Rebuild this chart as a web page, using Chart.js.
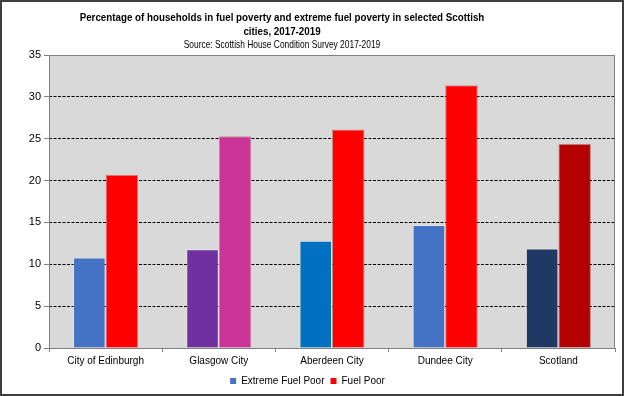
<!DOCTYPE html>
<html>
<head>
<meta charset="utf-8">
<script src="https://cdn.jsdelivr.net/npm/chart.js@4/dist/chart.umd.min.js"></script>
<style>
  html, body { margin: 0; padding: 0; background: #ffffff; }
  #wrap { width: 624px; height: 396px; position: relative; }
</style>
</head>
<body>
<div id="wrap"><canvas id="c" width="624" height="396"></canvas></div>
<script>
const categories = ["City of Edinburgh", "Glasgow City", "Aberdeen City", "Dundee City", "Scotland"];
const seriesNames = ["Extreme Fuel Poor", "Fuel Poor"];
const extremeFuelPoor = [10.8, 11.8, 12.8, 14.7, 11.9];
const fuelPoor = [20.7, 25.3, 26.1, 31.4, 24.4];
const extremeColors = ["#4472C4", "#7030A0", "#0070C0", "#4472C4", "#1F3864"];
const fuelColors = ["#FF0000", "#CC3399", "#FF0000", "#FF0000", "#B40000"];
const legendColors = ["#4472C4", "#FF0000"];
const yTicks = [0, 5, 10, 15, 20, 25, 30, 35];
const titleLines = ["Percentage of households in fuel poverty and extreme fuel poverty in selected Scottish", "cities, 2017-2019"];
const subtitle = "Source: Scottish House Condition Survey 2017-2019";

const FONT = '"Liberation Sans", Arial, sans-serif';

function scaledText(ctx, text, x, y, sx) {
  ctx.save();
  ctx.translate(x, y);
  ctx.scale(sx, 1);
  ctx.fillText(text, 0, 0);
  ctx.restore();
}

const decor = {
  id: 'decor',
  beforeDraw(chart) {
    const { ctx, chartArea: a } = chart;
    ctx.save();
    ctx.fillStyle = '#D9D9D9';
    ctx.fillRect(a.left, a.top, a.right - a.left, a.bottom - a.top);
    ctx.restore();
  },
  afterDatasetsDraw(chart) {
    const { ctx, chartArea: a } = chart;
    ctx.save();
    ctx.strokeStyle = '#808080';
    ctx.lineWidth = 1;
    ctx.strokeRect(a.left + 0.5, a.top + 0.5, a.right - a.left - 1, a.bottom - a.top);
    ctx.restore();
  },
  afterDraw(chart) {
    const { ctx, width, height } = chart;
    ctx.save();
    ctx.fillStyle = '#000';
    ctx.textAlign = 'center';
    ctx.textBaseline = 'middle';
    const cx = 282;
    ctx.font = 'bold 11.5px ' + FONT;
    scaledText(ctx, titleLines[0], cx, 18, 0.85);
    scaledText(ctx, titleLines[1], cx, 32, 0.85);
    ctx.font = '10.5px ' + FONT;
    scaledText(ctx, subtitle, cx, 45, 0.8);
    ctx.strokeStyle = '#404040';
    ctx.lineWidth = 2;
    ctx.strokeRect(1, 1, width - 2, height - 2);
    ctx.restore();
  }
};

new Chart(document.getElementById('c'), {
  type: 'bar',
  data: {
    labels: categories,
    datasets: [
      { label: seriesNames[0], data: extremeFuelPoor, backgroundColor: extremeColors, borderColor: 'rgba(255,255,255,0.35)', borderWidth: 1, borderSkipped: 'bottom' },
      { label: seriesNames[1], data: fuelPoor, backgroundColor: fuelColors, borderColor: 'rgba(150,0,0,0.35)', borderWidth: 1, borderSkipped: 'bottom' }
    ]
  },
  options: {
    responsive: false,
    animation: false,
    devicePixelRatio: 1,
    layout: { padding: { top: 55, right: 9, left: 0, bottom: 0 } },
    datasets: { bar: { barPercentage: 1, categoryPercentage: 0.575 } },
    plugins: {
      title: { display: false },
      tooltip: { enabled: false },
      legend: {
        position: 'bottom',
        labels: {
          font: { family: FONT, size: 10 },
          color: '#000',
          boxWidth: 6,
          boxHeight: 6,
          padding: 6,
          generateLabels: () => seriesNames.map((n, i) => ({
            text: n, fillStyle: legendColors[i], strokeStyle: legendColors[i], lineWidth: 0, datasetIndex: i, hidden: false
          }))
        }
      }
    },
    scales: {
      x: {
        offset: true,
        grid: { offset: true, drawOnChartArea: false, drawTicks: true, tickLength: 4, tickColor: '#808080', color: '#808080' },
        border: { display: false },
        ticks: { font: { family: FONT, size: 10 }, color: '#000', padding: 3, maxRotation: 0 }
      },
      y: {
        min: 0, max: 35,
        afterBuildTicks: (s) => { s.ticks = yTicks.map(v => ({ value: v })); },
        afterFit: (s) => { s.width = 49; },
        grid: {
          color: (c) => (c.tick && (c.tick.value === 0 || c.tick.value === 35)) ? 'rgba(0,0,0,0)' : '#000',
          lineWidth: 1,
          drawTicks: true,
          tickLength: 5,
          tickColor: '#808080',
          tickBorderDash: []
        },
        border: { display: false, dash: [3, 1.5] },
        ticks: { font: { family: FONT, size: 11 }, color: '#000', padding: 3 }
      }
    }
  },
  plugins: [decor]
});
</script>
</body>
</html>
